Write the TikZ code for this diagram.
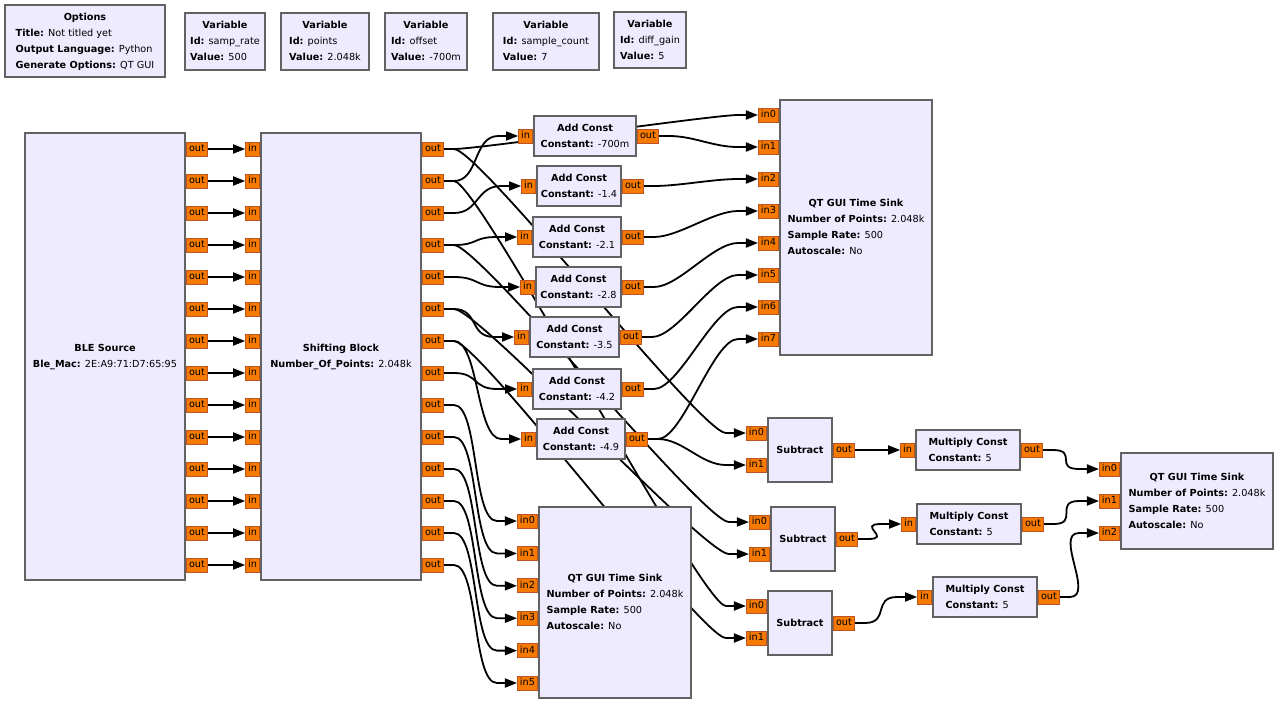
\documentclass[tikz,border=0pt]{standalone}
\usepackage{fontspec}
\setmainfont{DejaVu Sans}
\usepackage{tikz}
\usetikzlibrary{arrows.meta, calc, positioning}

\definecolor{blockfill}{RGB}{238,235,255}
\definecolor{blockedge}{RGB}{98,98,98}
\definecolor{portfill}{RGB}{246,122,0}
\definecolor{portedge}{RGB}{188,84,40}

\pgfdeclarelayer{wires}
\pgfsetlayers{wires,main}

% block text: bold title over the parameter lines
\newcommand{\blk}[2]{\begin{tabular}{@{}l@{}}\multicolumn{1}{@{}c@{}}{\bfseries #1}\\#2\end{tabular}}
\newcommand{\prm}[2]{\textbf{#1:} #2}

\begin{document}
\begin{tikzpicture}[x=1pt, y=-1pt,
    font=\fontsize{9.7}{16}\selectfont,
    block/.style={draw=blockedge, fill=blockfill, line width=2pt, inner sep=0pt},
    inport/.style={draw=portedge, fill=portfill, line width=1pt,
        inner xsep=2.5pt, inner ysep=0pt, minimum height=14pt,
        text height=7.5pt, text depth=2pt, anchor=east},
    outport/.style={inport, anchor=west},
    wire/.style={line width=1.8pt, -{Triangle[length=12pt, width=9pt]},
        to path={-- ++(10,0) .. controls +(25,0) and ($(\tikztotarget)+(-45,0)$)
            .. ($(\tikztotarget)+(-20,0)$) -- (\tikztotarget)}}
]
\useasboundingbox (0,0) rectangle (1280,705);

\node[block, minimum width=160pt, minimum height=72pt] (opts) at (85,41)
    {\blk{Options}{\prm{Title}{Not titled yet}\\\prm{Output Language}{Python}\\\prm{Generate Options}{QT GUI}}};
\node[block, minimum width=80pt, minimum height=57pt] (var-rate) at (225,41.5)
    {\blk{Variable}{\prm{Id}{samp\_rate}\\\prm{Value}{500}}};
\node[block, minimum width=88pt, minimum height=57pt, right=14pt of var-rate] (var-points)
    {\blk{Variable}{\prm{Id}{points}\\\prm{Value}{2.048k}}};
\node[block, minimum width=82pt, minimum height=57pt, right=14pt of var-points] (var-offset)
    {\blk{Variable}{\prm{Id}{offset}\\\prm{Value}{-700m}}};
\node[block, minimum width=106pt, minimum height=57pt, right=24pt of var-offset] (var-count)
    {\blk{Variable}{\prm{Id}{sample\_count}\\\prm{Value}{7}}};
\node[block, minimum width=72pt, minimum height=56pt, right=13pt of var-count, yshift=1.5pt] (var-gain)
    {\blk{Variable}{\prm{Id}{diff\_gain}\\\prm{Value}{5}}};

% source and shifter
\node[block, minimum width=160pt, minimum height=447pt] (ble) at (105,356.5)
    {\blk{BLE Source}{\prm{Ble\_Mac}{2E:A9:71:D7:65:95}}};
\node[block, minimum width=160pt, minimum height=447pt] (shift) at (341,356.5)
    {\blk{Shifting Block}{\prm{Number\_Of\_Points}{2.048k}}};
\foreach \i in {0,...,13}{
    \node[outport] (ble-o\i) at ($(ble.north east)+(0,17+32*\i)$) {out};
    \node[inport] (shift-i\i) at ($(shift.north west)+(0,17+32*\i)$) {in};
    \node[outport] (shift-o\i) at ($(shift.north east)+(0,17+32*\i)$) {out};
}

% offsets
\foreach \n/\x/\y/\w/\cst in {0/585/136/102pt/-700m, 1/579/186/84pt/-1.4, 2/577/237/88pt/-2.1,
        3/578.5/287/85pt/-2.8, 4/574.5/337/89pt/-3.5, 5/577/389/88pt/-4.2, 6/581/439/88pt/-4.9}{
    \node[block, minimum width=\w, minimum height=40pt] (add\n) at (\x,\y)
        {\blk{Add Const}{\prm{Constant}{\cst}}};
    \node[inport] (add\n-in) at (add\n.west) {in};
    \node[outport] (add\n-out) at (add\n.east) {out};
}

% sinks
\node[block, minimum width=152pt, minimum height=255pt] (sink1) at (856,227.5)
    {\blk{QT GUI Time Sink}{\prm{Number of Points}{2.048k}\\\prm{Sample Rate}{500}\\\prm{Autoscale}{No}}};
\foreach \i in {0,...,7}
    \node[inport] (sink1-i\i) at ($(sink1.north west)+(0,16+32*\i)$) {in\i};
\node[block, minimum width=152pt, minimum height=191pt] (sink3) at (615,602.5)
    {\blk{QT GUI Time Sink}{\prm{Number of Points}{2.048k}\\\prm{Sample Rate}{500}\\\prm{Autoscale}{No}}};
\foreach \i in {0,...,5}
    \node[inport] (sink3-i\i) at ($(sink3.north west)+(0,15+32.4*\i)$) {in\i};
\node[block, minimum width=152pt, minimum height=96pt] (sink2) at (1197,501)
    {\blk{QT GUI Time Sink}{\prm{Number of Points}{2.048k}\\\prm{Sample Rate}{500}\\\prm{Autoscale}{No}}};
\foreach \i in {0,1,2}
    \node[inport] (sink2-i\i) at ($(sink2.north west)+(0,17+32*\i)$) {in\i};

% differences and gains
\foreach \n/\x/\y in {1/800/450, 2/803/539, 3/800/623}{
    \node[block, minimum width=64pt, minimum height=64pt] (sub\n) at (\x,\y) {\textbf{Subtract}};
    \node[inport] (sub\n-in0) at ($(sub\n.north west)+(0,16)$) {in0};
    \node[inport] (sub\n-in1) at ($(sub\n.north west)+(0,48)$) {in1};
    \node[outport] (sub\n-out) at (sub\n.east) {out};
}
\foreach \n/\x/\y in {1/968/450, 2/969/524, 3/985/597}{
    \node[block, minimum width=104pt, minimum height=40pt] (mul\n) at (\x,\y)
        {\blk{Multiply Const}{\prm{Constant}{5}}};
    \node[inport] (mul\n-in) at (mul\n.west) {in};
    \node[outport] (mul\n-out) at (mul\n.east) {out};
}

\begin{pgfonlayer}{wires}
    \foreach \i in {0,...,13}
        \draw[wire] (ble-o\i.east) to (shift-i\i.west);
    \draw[wire] (shift-o0.east) to (sink1-i0.west);
    \foreach \i/\n in {1/0, 2/1, 3/2, 4/3, 5/4, 7/5, 6/6}
        \draw[wire] (shift-o\i.east) to (add\n-in.west);
    \foreach \n/\k in {0/1, 1/2, 2/3, 3/4, 4/5, 5/6, 6/7}
        \draw[wire] (add\n-out.east) to (sink1-i\k.west);
    \foreach \i/\k in {8/0, 9/1, 10/2, 11/3, 12/4, 13/5}
        \draw[wire] (shift-o\i.east) to (sink3-i\k.west);
    \draw[wire] (shift-o0.east) to (sub1-in0.west);
    \draw[wire] (add6-out.east) to (sub1-in1.west);
    \draw[wire] (shift-o3.east) to (sub2-in0.west);
    \draw[wire] (shift-o5.east) to (sub2-in1.west);
    \draw[wire] (shift-o1.east) to (sub3-in0.west);
    \draw[wire] (shift-o6.east) to (sub3-in1.west);
    \foreach \n/\k in {1/0, 2/1, 3/2}{
        \draw[wire] (sub\n-out.east) to (mul\n-in.west);
        \draw[wire] (mul\n-out.east) to (sink2-i\k.west);
    }
\end{pgfonlayer}
\end{tikzpicture}
\end{document}
